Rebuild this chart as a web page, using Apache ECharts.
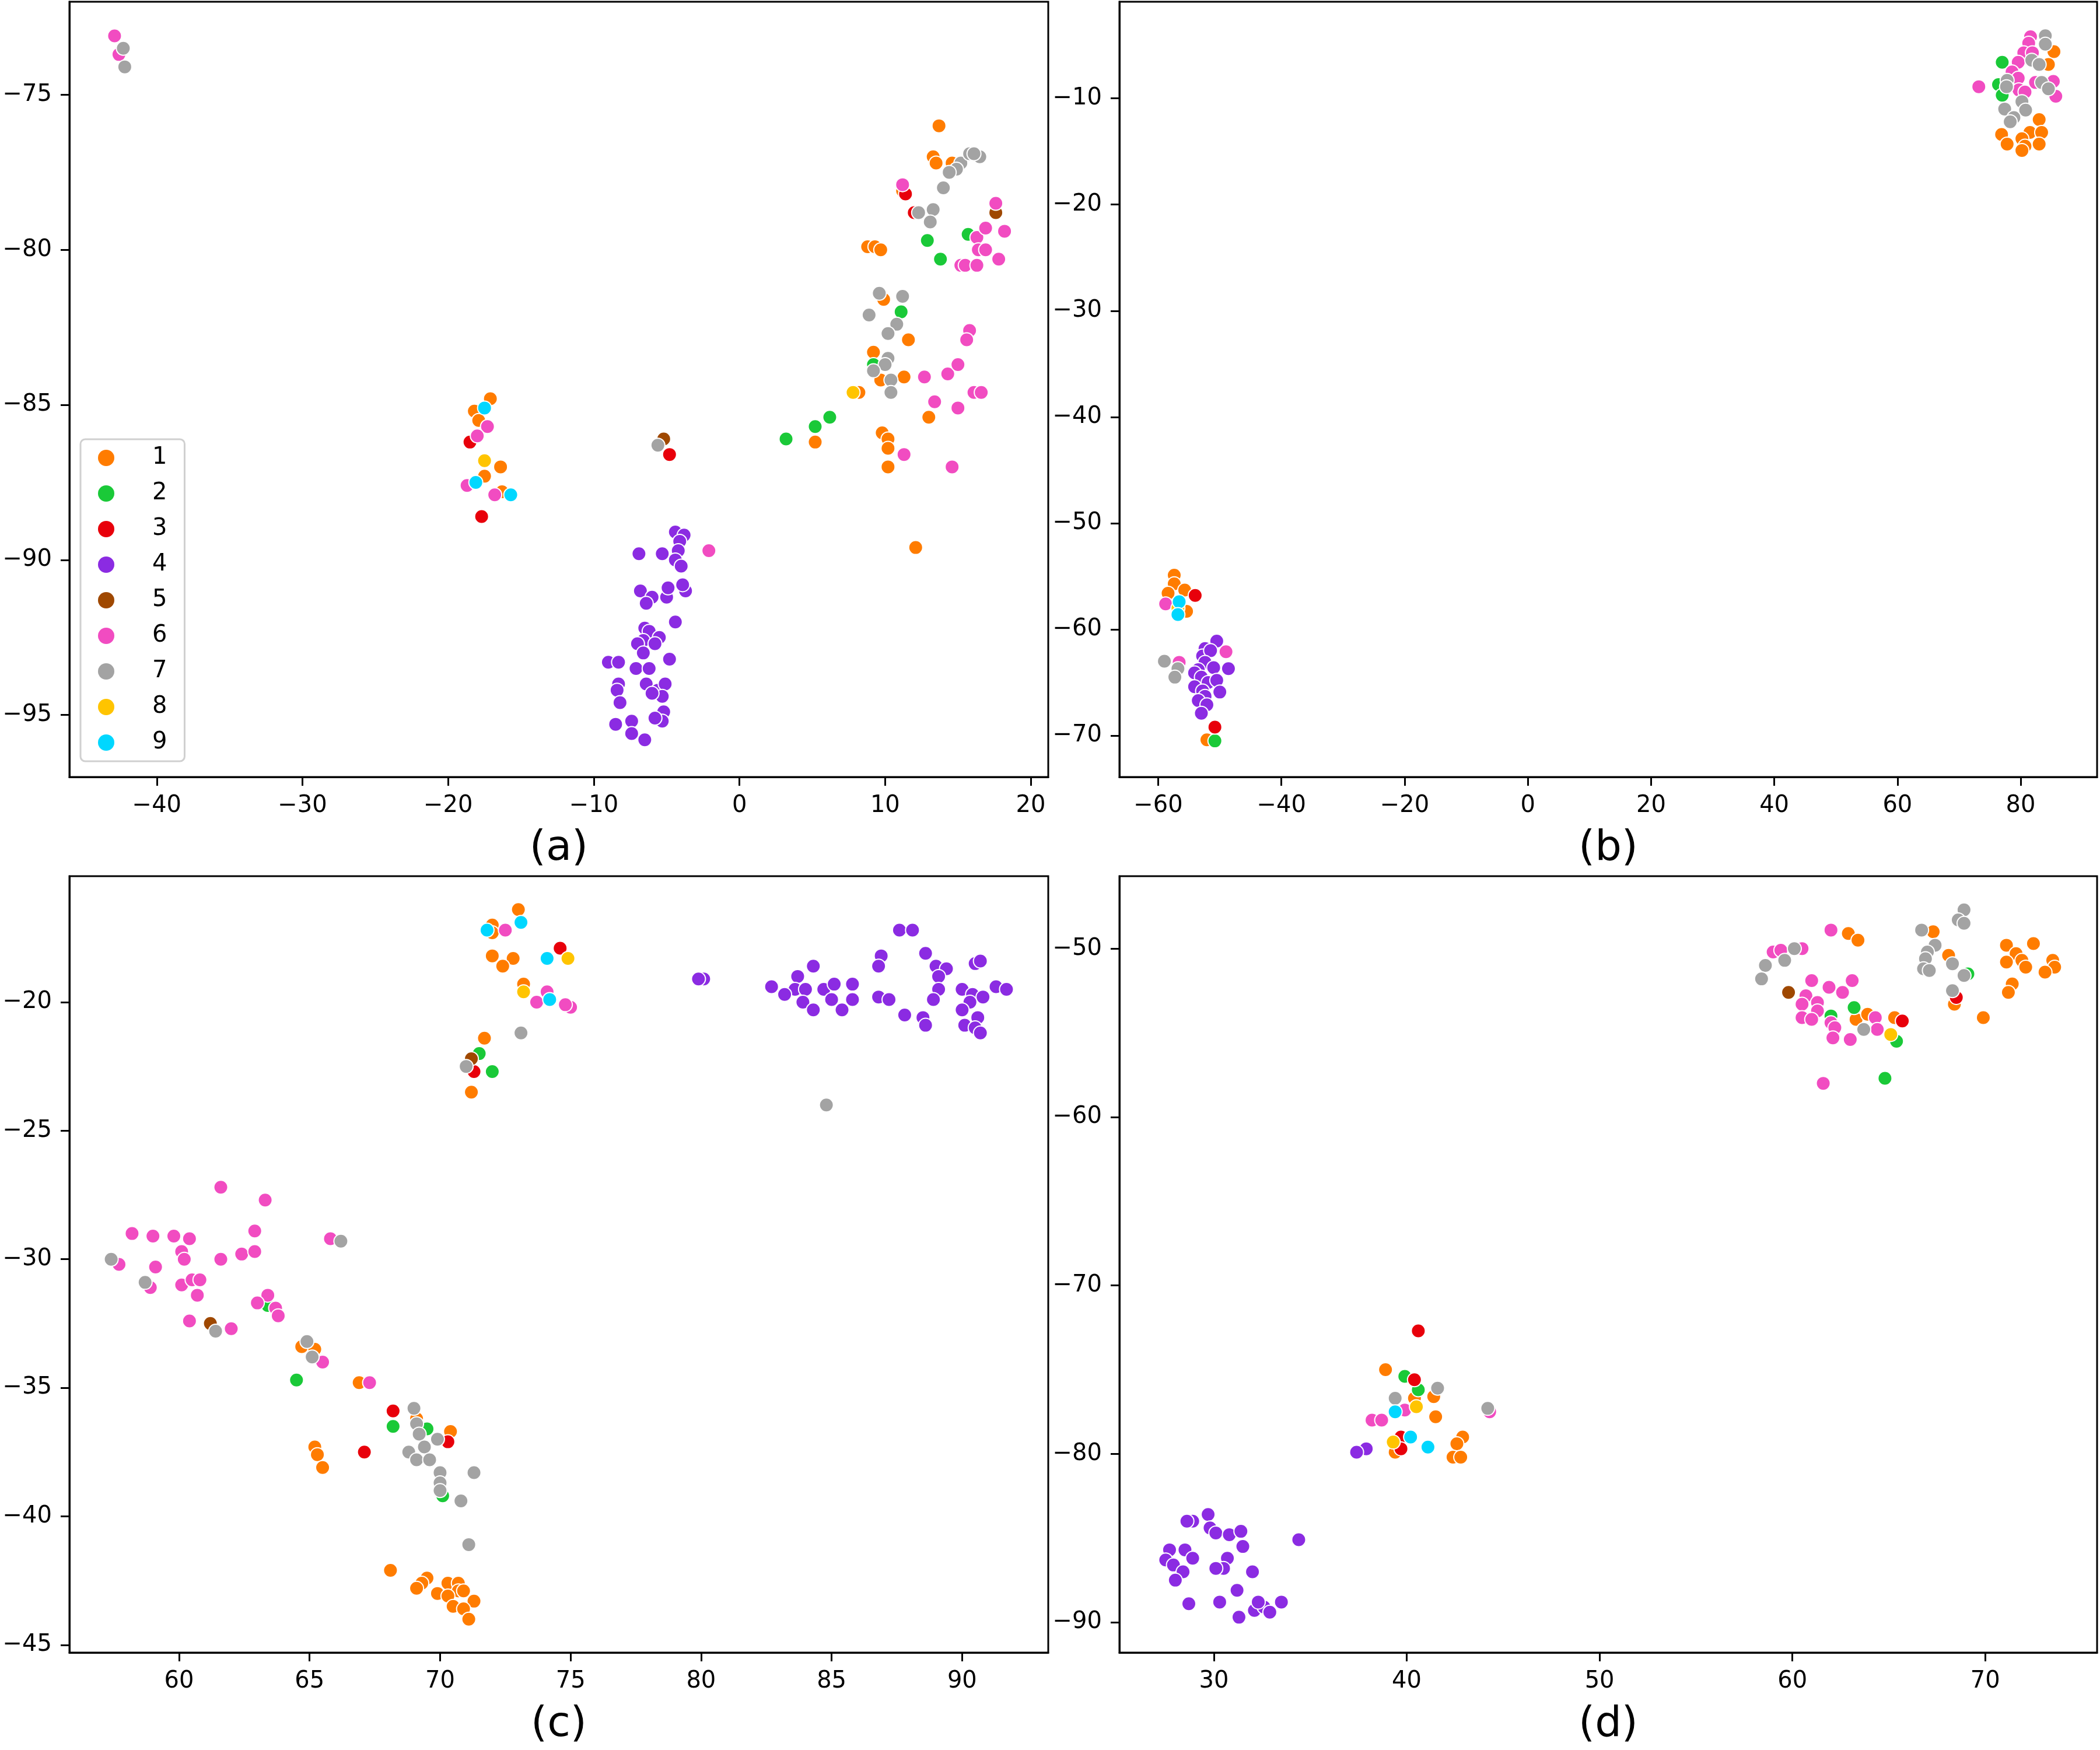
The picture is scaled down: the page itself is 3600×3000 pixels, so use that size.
<!DOCTYPE html>
<html><head><meta charset="utf-8">
<script src="https://cdn.jsdelivr.net/npm/echarts@6/dist/echarts.min.js"></script>
<style>html,body{margin:0;padding:0;background:#fff}#c{width:3600px;height:3000px}</style>
</head><body><div id="c"></div>
<script>
// ---------- class names and colours ----------
const classNames = ['1','2','3','4','5','6','7','8','9'];
const classColors = ['#ff7c00','#1ac938','#e8000b','#8b2be2','#9f4800','#f14cc1','#a3a3a3','#ffc400','#00d7ff'];
const captions = ['(a)','(b)','(c)','(d)'];

// ---------- tick labels ----------
const ticksAX = [-40,-30,-20,-10,0,10,20];
const ticksAY = [-95,-90,-85,-80,-75];
const ticksBX = [-60,-40,-20,0,20,40,60,80];
const ticksBY = [-70,-60,-50,-40,-30,-20,-10];
const ticksCX = [60,65,70,75,80,85,90];
const ticksCY = [-45,-40,-35,-30,-25,-20];
const ticksDX = [30,40,50,60,70];
const ticksDY = [-90,-80,-70,-60,-50];

// ---------- panel (a) ----------
const a1 = [[13.7,-76.0],[13.3,-77.0],[13.5,-77.2],[14.6,-77.2],[11.2,-78.1],[8.8,-79.9],[9.3,-79.9],[9.7,-80.0],[9.9,-81.6],[11.6,-82.9],[9.2,-83.3],[9.7,-84.2],[11.3,-84.1],[8.2,-84.6],[13.0,-85.4],[9.8,-85.9],[10.2,-86.1],[10.2,-86.4],[10.2,-87.0],[12.1,-89.6],[5.2,-86.2],[-17.1,-84.8],[-18.2,-85.2],[-17.9,-85.5],[-16.4,-87.0],[-17.5,-87.3],[-16.3,-87.8]];
const a2 = [[15.7,-79.5],[12.9,-79.7],[13.8,-80.3],[11.1,-82.0],[9.2,-83.7],[3.2,-86.1],[5.2,-85.7],[6.2,-85.4]];
const a3 = [[11.4,-78.2],[12.0,-78.8],[-18.5,-86.2],[-17.7,-88.6],[-4.8,-86.6]];
const a4 = [[-4.4,-89.1],[-3.8,-89.2],[-4.1,-89.4],[-4.2,-89.7],[-6.9,-89.8],[-5.3,-89.8],[-4.4,-90.0],[-4.0,-90.2],[-6.8,-91.0],[-6.0,-91.2],[-6.4,-91.4],[-5.0,-91.2],[-4.9,-90.9],[-3.7,-91.0],[-3.9,-90.8],[-4.4,-92.0],[-6.5,-92.2],[-6.2,-92.3],[-5.5,-92.5],[-6.6,-92.6],[-5.8,-92.7],[-7.0,-92.7],[-6.6,-93.0],[-4.8,-93.2],[-9.0,-93.3],[-8.3,-93.3],[-7.1,-93.5],[-6.2,-93.5],[-8.3,-94.0],[-8.4,-94.2],[-6.4,-94.0],[-5.6,-94.2],[-5.1,-94.0],[-5.3,-94.4],[-6.0,-94.3],[-8.2,-94.6],[-8.5,-95.3],[-7.4,-95.2],[-5.2,-94.9],[-5.3,-95.2],[-5.8,-95.1],[-7.4,-95.6],[-6.5,-95.8]];
const a5 = [[17.6,-78.8],[-5.2,-86.1]];
const a6 = [[11.2,-77.9],[17.6,-78.5],[16.3,-79.6],[16.9,-79.3],[18.2,-79.4],[16.4,-80.0],[16.9,-80.0],[17.8,-80.3],[15.2,-80.5],[15.5,-80.5],[16.3,-80.5],[12.7,-84.1],[14.3,-84.0],[15.0,-83.7],[15.8,-82.6],[15.6,-82.9],[16.1,-84.6],[16.6,-84.6],[13.4,-84.9],[15.0,-85.1],[11.3,-86.6],[14.6,-87.0],[-17.3,-85.7],[-18.0,-86.0],[-18.7,-87.6],[-16.8,-87.9],[-2.1,-89.7],[-42.9,-73.1],[-42.6,-73.7]];
const a7 = [[15.2,-77.2],[15.8,-76.9],[16.5,-77.0],[16.1,-76.9],[14.9,-77.4],[14.4,-77.5],[14.0,-78.0],[12.3,-78.8],[13.3,-78.7],[13.1,-79.1],[9.6,-81.4],[11.2,-81.5],[8.9,-82.1],[10.8,-82.4],[10.2,-82.7],[10.2,-83.5],[10.0,-83.7],[9.2,-83.9],[10.4,-84.2],[10.4,-84.6],[-5.6,-86.3],[-42.3,-73.5],[-42.2,-74.1]];
const a8 = [[7.8,-84.6],[-17.5,-86.8]];
const a9 = [[-17.5,-85.1],[-18.1,-87.5],[-15.7,-87.9]];

// ---------- panel (b) ----------
const b1 = [[85.4,-5.6],[84.5,-6.8],[83.0,-12.0],[76.9,-13.4],[77.8,-14.3],[81.5,-13.2],[83.4,-13.2],[80.2,-13.8],[80.7,-14.5],[83.0,-14.3],[80.2,-14.9],[-57.4,-54.9],[-57.4,-55.7],[-55.7,-56.3],[-58.4,-56.6],[-55.4,-58.3],[-52.1,-70.4]];
const b2 = [[77.0,-6.6],[76.4,-8.7],[77.0,-9.7],[-50.8,-70.5]];
const b3 = [[-54.0,-56.8],[-50.8,-69.2]];
const b4 = [[-50.5,-61.1],[-52.4,-61.8],[-52.8,-62.5],[-51.5,-62.0],[-52.4,-63.1],[-48.6,-63.7],[-53.5,-63.8],[-51.0,-63.6],[-54.1,-64.1],[-53.0,-64.5],[-51.9,-65.0],[-50.5,-64.8],[-50.0,-65.9],[-54.1,-65.4],[-52.8,-65.8],[-52.4,-66.3],[-53.5,-66.7],[-52.1,-67.1],[-53.0,-67.9]];
const b5 = [];
const b6 = [[73.2,-8.9],[81.6,-4.2],[81.3,-4.8],[80.5,-5.7],[81.9,-5.7],[79.6,-6.6],[78.6,-7.5],[79.6,-8.1],[79.7,-9.2],[80.7,-9.4],[82.4,-8.5],[85.3,-8.4],[85.7,-9.8],[-58.8,-57.6],[-49.0,-62.1],[-56.6,-63.1]];
const b7 = [[84.0,-4.1],[84.0,-4.9],[81.8,-6.4],[83.0,-6.8],[77.8,-8.3],[77.7,-8.9],[83.4,-8.5],[84.5,-9.1],[80.2,-10.3],[77.4,-11.0],[80.8,-11.1],[78.9,-11.8],[78.3,-12.2],[-59.0,-63.0],[-56.8,-63.7],[-57.3,-64.5]];
const b8 = [[-56.8,-58.0]];
const b9 = [[-56.6,-57.4],[-56.8,-58.6]];

// ---------- panel (c) ----------
const c1 = [[73.0,-16.4],[72.0,-17.0],[72.0,-17.3],[72.0,-18.2],[72.8,-18.3],[72.4,-18.6],[73.2,-19.3],[71.7,-21.4],[71.2,-23.5],[64.7,-33.4],[65.2,-33.5],[66.9,-34.8],[69.1,-36.2],[70.4,-36.7],[65.2,-37.3],[65.3,-37.6],[65.5,-38.1],[68.1,-42.1],[69.5,-42.4],[69.3,-42.6],[69.1,-42.8],[69.9,-43.0],[70.3,-42.6],[70.7,-42.6],[70.7,-42.9],[70.3,-43.1],[70.9,-42.9],[71.3,-43.3],[70.5,-43.5],[70.9,-43.6],[71.1,-44.0]];
const c2 = [[71.5,-22.0],[72.0,-22.7],[63.4,-31.8],[64.5,-34.7],[68.2,-36.5],[69.5,-36.6],[70.1,-39.2]];
const c3 = [[74.6,-17.9],[71.3,-22.7],[68.2,-35.9],[70.3,-37.1],[67.1,-37.5]];
const c4 = [[80.1,-19.1],[79.9,-19.1],[84.3,-18.6],[83.7,-19.0],[82.7,-19.4],[83.6,-19.5],[84.0,-19.5],[84.7,-19.5],[85.1,-19.3],[85.8,-19.3],[83.2,-19.7],[83.9,-20.0],[84.3,-20.3],[85.0,-19.9],[85.8,-19.9],[85.4,-20.3],[87.6,-17.2],[88.1,-17.2],[86.9,-18.2],[86.8,-18.6],[88.6,-18.1],[89.0,-18.6],[89.4,-18.7],[89.1,-19.0],[89.1,-19.5],[86.8,-19.8],[87.2,-19.9],[88.9,-19.9],[87.8,-20.5],[88.5,-20.6],[88.6,-20.9],[90.5,-18.5],[90.7,-18.4],[90.0,-19.5],[90.4,-19.7],[90.8,-19.8],[91.3,-19.4],[91.7,-19.5],[90.3,-20.0],[90.0,-20.3],[90.6,-20.6],[90.1,-20.9],[90.5,-21.0],[90.7,-21.2]];
const c5 = [[71.2,-22.2],[61.2,-32.5]];
const c6 = [[72.5,-17.2],[73.7,-20.0],[74.1,-19.6],[75.0,-20.2],[74.8,-20.1],[61.6,-27.2],[63.3,-27.7],[58.2,-29.0],[59.0,-29.1],[59.8,-29.1],[60.4,-29.2],[62.9,-28.9],[65.8,-29.2],[60.1,-29.7],[60.2,-30.0],[57.7,-30.2],[61.6,-30.0],[62.4,-29.8],[62.9,-29.7],[59.1,-30.3],[58.9,-31.1],[60.1,-31.0],[60.5,-30.8],[60.8,-30.8],[60.7,-31.4],[63.4,-31.4],[63.0,-31.7],[63.7,-31.9],[63.8,-32.2],[60.4,-32.4],[62.0,-32.7],[65.5,-34.0],[67.3,-34.8]];
const c7 = [[73.1,-21.2],[71.0,-22.5],[84.8,-24.0],[66.2,-29.3],[57.4,-30.0],[58.7,-30.9],[61.4,-32.8],[64.9,-33.2],[65.1,-33.8],[69.0,-35.8],[69.1,-36.4],[69.2,-36.8],[69.9,-37.0],[69.4,-37.3],[68.8,-37.5],[69.1,-37.8],[69.6,-37.8],[70.0,-38.3],[70.0,-38.7],[70.0,-39.0],[71.3,-38.3],[70.8,-39.4],[71.1,-41.1]];
const c8 = [[74.9,-18.3],[73.2,-19.6]];
const c9 = [[73.1,-16.9],[71.8,-17.2],[74.1,-18.3],[74.2,-19.9]];

// ---------- panel (d) ----------
const d1 = [[62.9,-49.1],[63.4,-49.5],[67.3,-49.0],[68.1,-50.4],[68.4,-53.3],[69.9,-54.1],[71.1,-49.8],[72.5,-49.7],[71.6,-50.3],[71.9,-50.7],[71.1,-50.8],[72.1,-51.1],[73.5,-50.7],[73.6,-51.1],[73.1,-51.4],[71.4,-52.1],[71.2,-52.6],[63.3,-54.2],[63.9,-53.9],[65.3,-54.1],[38.9,-75.0],[40.4,-76.7],[41.4,-76.6],[41.5,-77.8],[39.4,-79.9],[42.9,-79.0],[42.6,-79.4],[42.4,-80.2],[42.8,-80.2]];
const d2 = [[69.1,-51.5],[63.2,-53.5],[62.0,-54.0],[65.4,-55.5],[64.8,-57.7],[39.9,-75.4],[40.6,-76.2]];
const d3 = [[68.5,-52.9],[65.7,-54.3],[40.6,-72.7],[40.4,-75.6],[39.7,-79.0],[39.7,-79.7]];
const d4 = [[37.9,-79.7],[37.4,-79.9],[29.7,-83.6],[28.9,-84.0],[28.6,-84.0],[29.8,-84.4],[30.1,-84.7],[30.8,-84.8],[31.4,-84.6],[31.5,-85.5],[27.7,-85.7],[28.5,-85.7],[28.9,-86.2],[27.5,-86.3],[27.9,-86.6],[28.4,-87.0],[28.0,-87.5],[30.7,-86.2],[30.5,-86.8],[30.1,-86.8],[32.0,-87.0],[34.4,-85.1],[31.2,-88.1],[28.7,-88.9],[30.3,-88.8],[31.3,-89.7],[32.1,-89.3],[32.6,-89.1],[32.3,-88.8],[32.9,-89.4],[33.5,-88.8]];
const d5 = [[59.8,-52.6]];
const d6 = [[62.0,-48.9],[59.0,-50.2],[59.4,-50.1],[60.5,-50.0],[61.0,-51.9],[63.1,-51.9],[61.9,-52.3],[62.6,-52.6],[60.7,-52.8],[61.3,-53.2],[60.5,-53.3],[61.3,-53.7],[60.5,-54.1],[61.0,-54.2],[62.0,-54.4],[62.2,-54.7],[64.3,-54.1],[64.4,-54.8],[62.1,-55.3],[63.0,-55.4],[61.6,-58.0],[39.9,-77.4],[44.3,-77.5],[38.2,-78.0],[38.7,-78.0]];
const d7 = [[68.9,-47.7],[68.6,-48.3],[68.9,-48.5],[66.7,-48.9],[67.4,-49.8],[67.0,-50.2],[66.9,-50.6],[66.8,-51.2],[67.1,-51.3],[68.3,-50.9],[68.9,-51.6],[68.3,-52.5],[60.1,-50.0],[59.6,-50.7],[58.6,-51.0],[58.4,-51.8],[63.7,-54.8],[41.6,-76.1],[39.4,-76.7],[44.2,-77.3]];
const d8 = [[65.1,-55.1],[40.5,-77.2],[39.3,-79.3]];
const d9 = [[39.4,-77.5],[40.2,-79.0],[41.1,-79.6]];

const panelData = [
  [a1,a2,a3,a4,a5,a6,a7,a8,a9],
  [b1,b2,b3,b4,b5,b6,b7,b8,b9],
  [c1,c2,c3,c4,c5,c6,c7,c8,c9],
  [d1,d2,d3,d4,d5,d6,d7,d8,d9]
];
const xTicks = [ticksAX, ticksBX, ticksCX, ticksDX];
const yTicks = [ticksAY, ticksBY, ticksCY, ticksDY];
const xRanges = [[-46,21.2],[-66.3,92.4],[55.8,93.3],[25.1,75.8]];
const yRanges = [[-97,-72],[-73.9,-0.9],[-45.3,-15.1],[-91.8,-45.7]];

// ---------- layout ----------
const FONT = 'DejaVu Sans';
const grids = [
  {left:119, top:3, width:1678, height:1329},
  {left:1919, top:3, width:1676, height:1329},
  {left:119, top:1502, width:1678, height:1331},
  {left:1919, top:1502, width:1676, height:1331}
];
const fmt = v => String(v).replace('-', '\u2212');

const chart = echarts.init(document.getElementById('c'), null, {renderer:'canvas', width:3600, height:3000});
const xAxes = [], yAxes = [], series = [], graphics = [];
grids.forEach((g, p) => {
  g.show = true; g.borderColor = '#000'; g.borderWidth = 3; g.backgroundColor = '#fff';
  xAxes.push({
    type:'value', gridIndex:p, min:xRanges[p][0], max:xRanges[p][1],
    axisLine:{show:true, onZero:false, lineStyle:{color:'#000', width:3}},
    axisTick:{show:true, length:15, lineStyle:{color:'#000', width:3}, customValues:xTicks[p]},
    axisLabel:{color:'#000', fontSize:40, fontFamily:FONT, margin:30, customValues:xTicks[p], formatter:fmt},
    splitLine:{show:false}
  });
  yAxes.push({
    type:'value', gridIndex:p, min:yRanges[p][0], max:yRanges[p][1],
    axisLine:{show:true, onZero:false, lineStyle:{color:'#000', width:3}},
    axisTick:{show:true, length:15, lineStyle:{color:'#000', width:3}, customValues:yTicks[p]},
    axisLabel:{color:'#000', fontSize:40, fontFamily:FONT, margin:30, customValues:yTicks[p], formatter:fmt},
    splitLine:{show:false}
  });
  panelData[p].forEach((arr, k) => {
    series.push({
      type:'scatter', name:classNames[k], xAxisIndex:p, yAxisIndex:p,
      data:arr, symbol:'circle', symbolSize:24,
      itemStyle:{color:classColors[k], borderColor:'#fff', borderWidth:2, opacity:1},
      emphasis:{disabled:true}, animation:false
    });
  });
  graphics.push({
    type:'text', x:g.left + g.width/2, y:(p < 2 ? 1455 : 2957),
    style:{text:captions[p], font:'72px "DejaVu Sans"', fill:'#000', textAlign:'center', textVerticalAlign:'middle'}
  });
});

chart.setOption({
  animation:false,
  backgroundColor:'#fff',
  grid:grids, xAxis:xAxes, yAxis:yAxes, series:series,
  legend:{
    data:classNames, orient:'vertical', left:138, top:753,
    padding:[12,30,12,30], itemGap:21, itemWidth:60, itemHeight:28, icon:'circle',
    backgroundColor:'#fff', borderColor:'#d0d0d0', borderWidth:3, borderRadius:8,
    textStyle:{fontSize:40, fontFamily:FONT, color:'#000', padding:[0,0,0,44], lineHeight:36},
    itemStyle:{borderWidth:0}, selectedMode:false
  },
  graphic:graphics
});
</script></body></html>
